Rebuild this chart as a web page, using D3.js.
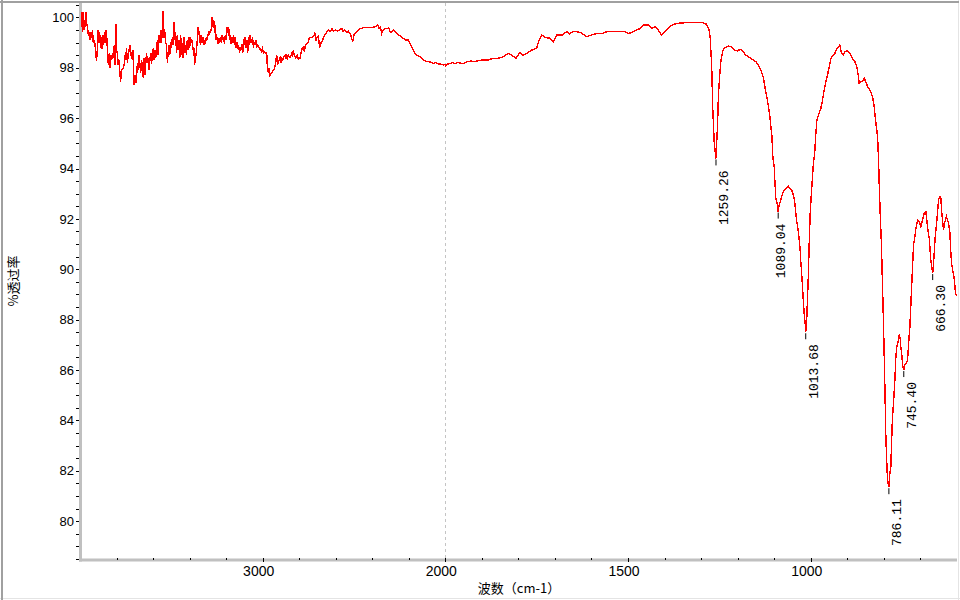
<!DOCTYPE html>
<html><head><meta charset="utf-8">
<script src="https://cdn.jsdelivr.net/npm/d3@7"></script>
<style>html,body{margin:0;padding:0;background:#fff;}svg{display:block}</style>
</head><body>
<svg id="chart" width="960" height="600"></svg>
<script>
const wavenumbers = [
3992,3990,3986,3983,3979,3975,3971,3967,3963,3959,
3955,3950,3946,3941,3937,3932,3928,3923,3919,3914,
3910,3906,3902,3897,3893,3888,3884,3880,3875,3871,
3866,3862,3858,3854,3849,3845,3840,3836,3831,3827,
3822,3818,3813,3809,3804,3800,3795,3791,3786,3782,
3778,3773,3768,3764,3759,3755,3750,3746,3741,3736,
3732,3727,3723,3718,3714,3709,3705,3700,3695,3691,
3686,3682,3677,3672,3668,3663,3659,3654,3650,3645,
3641,3636,3632,3627,3622,3618,3613,3609,3604,3599,
3595,3590,3586,3581,3577,3572,3568,3563,3558,3554,
3549,3545,3540,3536,3531,3527,3522,3518,3513,3509,
3504,3500,3495,3490,3486,3481,3477,3472,3468,3463,
3458,3454,3449,3445,3440,3436,3431,3427,3422,3418,
3413,3409,3404,3400,3395,3391,3386,3382,3377,3373,
3368,3364,3359,3355,3350,3346,3341,3337,3332,3328,
3323,3318,3314,3309,3305,3300,3296,3291,3286,3282,
3277,3273,3268,3264,3259,3255,3250,3246,3241,3236,
3232,3227,3223,3218,3214,3209,3205,3200,3195,3191,
3186,3182,3177,3173,3168,3164,3159,3155,3150,3146,
3141,3136,3132,3127,3123,3118,3113,3109,3105,3100,
3096,3091,3087,3082,3078,3073,3069,3064,3060,3055,
3051,3046,3042,3037,3033,3028,3024,3019,3014,3010,
3005,3001,2996,2992,2987,2982,2978,2974,2969,2965,
2960,2955,2951,2946,2941,2937,2932,2928,2923,2919,
2914,2910,2905,2900,2896,2891,2887,2882,2878,2873,
2869,2864,2860,2855,2850,2846,2841,2837,2832,2828,
2823,2819,2814,2810,2805,2800,2796,2790,2785,2778,
2772,2766,2759,2752,2745,2738,2730,2722,2714,2708,
2702,2695,2688,2680,2672,2660,2650,2641,2630,2620,
2613,2600,2590,2580,2567,2560,2550,2540,2531,2520,
2507,2500,2485,2475,2465,2458,2445,2430,2415,2403,
2390,2380,2370,2362,2355,2348,2340,2330,2320,2310,
2300,2294,2285,2275,2265,2257,2245,2230,2215,2203,
2195,2184,2175,2166,2155,2139,2125,2120,2105,2093,
2080,2066,2055,2045,2038,2025,2011,2004,1999,1993,
1987,1980,1973,1965,1958,1951,1940,1930,1923,1910,
1896,1885,1875,1859,1848,1840,1828,1818,1807,1796,
1787,1777,1764,1750,1745,1736,1725,1713,1704,1695,
1680,1668,1660,1650,1640,1630,1620,1613,1600,1586,
1570,1558,1545,1531,1520,1508,1499,1490,1476,1466,
1458,1444,1435,1426,1418,1408,1399,1390,1380,1367,
1350,1330,1303,1296,1285,1278,1275,1271,1268,1264,
1259.26,1257.9,1255.1,1252.4,1248.7,1246.0,1241.4,1236.9,1225.9,1218.6,
1209.5,1200.4,1193.1,1186.7,1177.6,1163.9,1150.2,1141.1,1134.7,1129.2,
1124.7,1120.1,1115.5,1111.9,1109.1,1106.4,1103.7,1100.0,1098.2,1095.5,
1092.7,1089.04,1086.3,1081.8,1077.2,1072.7,1068.1,1061.7,1056.3,1049.9,
1045.3,1042.6,1038.9,1034.4,1031.6,1028.9,1027.1,1024.3,1022.5,1019.8,
1017.9,1015.2,1013.68,1010.6,1007.0,1004.2,1001.5,997.8,993.3,988.7,
986.0,983.2,978.7,972.3,967.7,963.2,958.6,954.1,949.5,944.9,
940.4,934.0,929.4,923.9,920.3,915.7,911.2,906.6,899.3,892.9,
885.6,879.3,873.8,870.1,867.4,862.8,858.3,853.7,849.1,844.6,
837.3,830.9,826.3,821.6,817.0,814.3,812.4,809.9,806.3,803.5,
800.8,797.2,794.4,792.6,789.9,786.11,784.4,780.8,778.9,776.2,
773.5,769.8,767.1,764.3,760.7,757.9,755.2,753.4,750.6,748.8,
745.40,742.4,738.8,735.1,732.4,728.8,726.0,721.4,718.7,715.0,
712.3,707.7,703.2,698.6,694.1,689.5,684.9,680.4,675.8,671.3,
666.30,664.9,662.1,659.4,654.8,650.3,646.6,643.9,641.2,636.6,
632.9,628.4,622.9,619.3,616.5,613.8,610.1,607.4,603.7,600
];
const transmittance = [
99.6,100.22,99.4,100.2,99.5,99.9,99.6,100.2,99.7,99.6,
99.3,99.36,99.1,99.4,99.2,99.5,99.0,99.05,98.95,98.55,
98.25,98.7,99.5,99.0,99.4,98.8,99.2,98.75,99.3,98.9,
99.4,99.0,99.5,99.2,98.5,98.1,98.6,98.0,98.5,98.3,
98.6,98.4,98.9,98.1,99.75,98.7,98.5,98.1,98.3,97.8,
97.45,97.9,97.95,98.0,98.1,98.5,98.3,98.8,98.2,98.5,
98.7,98.9,98.45,98.6,98.3,98.7,97.3,97.7,97.4,97.6,
98.2,97.9,98.5,98.1,97.8,98.3,98.0,97.6,98.4,97.7,
98.1,98.6,98.2,98.4,97.9,98.3,98.6,98.15,98.5,98.8,
98.3,98.7,98.4,98.6,99.1,98.5,99.3,99.0,99.5,99.0,
99.6,100.25,99.2,99.4,99.0,98.9,98.2,98.6,98.9,98.5,
99.0,98.8,99.2,98.9,99.8,99.1,99.4,98.6,99.3,98.7,
99.1,98.4,99.3,98.5,99.0,98.4,99.2,98.6,98.9,98.5,
99.1,98.7,99.2,98.8,99.2,99.0,99.1,98.7,98.8,98.1,
98.4,98.6,99.0,99.6,99.45,99.2,98.9,99.3,99.0,99.2,
98.9,99.1,98.95,99.2,99.1,99.3,99.4,99.35,99.5,99.5,
100.0,99.6,99.9,99.4,99.7,99.1,99.2,98.95,99.1,99.0,
99.2,99.0,99.3,99.1,99.2,98.95,99.3,99.1,99.6,99.4,
99.6,99.1,99.3,98.95,99.2,99.0,99.3,98.9,99.2,98.8,
99.0,98.75,98.9,98.6,98.8,98.7,98.95,98.6,99.15,98.9,
99.2,98.8,99.1,98.6,99.2,98.9,99.3,99.0,99.1,99.2,
98.8,99.0,98.95,99.1,98.8,98.9,98.85,98.8,98.7,98.75,
98.65,98.75,98.6,98.65,98.6,98.55,98.6,97.95,97.8,98.0,
97.7,97.75,97.8,97.85,97.9,97.95,98.1,98.3,98.5,98.1,
98.2,98.3,98.4,98.2,98.35,98.3,98.4,98.45,98.5,98.35,
98.55,98.4,98.5,98.45,98.4,98.45,98.6,98.45,98.7,98.5,
98.45,98.4,98.45,98.5,98.35,98.4,98.37,98.6,98.75,98.8,
98.65,98.9,98.95,99.0,99.17,99.2,99.2,99.25,99.37,99.1,
99.2,99.25,98.8,99.0,99.1,99.3,99.4,99.5,99.45,99.55,
99.45,99.5,99.45,99.5,99.56,99.45,99.5,99.4,99.45,99.35,
99.03,99.3,99.43,99.5,99.55,99.56,99.6,99.6,99.6,99.6,
99.62,99.65,99.72,99.55,99.6,99.36,99.5,99.56,99.55,99.58,
99.4,99.4,99.5,99.45,99.35,99.3,99.25,99.17,99.1,99.1,
99.0,98.83,98.7,98.55,98.5,98.44,98.35,98.31,98.25,98.24,
98.22,98.17,98.2,98.18,98.15,98.15,98.11,98.13,98.08,98.15,
98.17,98.2,98.17,98.22,98.18,98.17,98.24,98.27,98.24,98.28,
98.31,98.3,98.35,98.37,98.4,98.44,98.57,98.5,98.37,98.6,
98.5,98.57,98.7,98.77,99.03,99.30,99.2,99.17,99.03,99.30,
99.30,99.43,99.35,99.45,99.43,99.4,99.3,99.23,99.3,99.36,
99.36,99.43,99.43,99.43,99.45,99.43,99.36,99.4,99.50,99.56,
99.69,99.69,99.56,99.63,99.5,99.30,99.43,99.56,99.69,99.76,
99.78,99.8,99.8,99.79,99.73,99.5,99.17,98.04,96.32,95.0,
94.4,94.87,95.66,96.98,97.78,98.24,98.63,98.77,98.86,98.83,
98.70,98.67,98.73,98.67,98.50,98.37,98.24,98.04,97.84,97.58,
97.18,96.85,96.45,96.06,95.66,95.33,94.47,94.07,93.54,92.82,
92.68,92.29,92.56,92.75,93.01,93.14,93.21,93.30,93.21,93.08,
92.82,92.50,91.95,91.56,91.16,90.77,90.30,89.71,89.31,88.65,
88.25,87.86,87.5,88.12,89.58,91.0,92.2,93.1,94.07,94.73,
95.40,95.92,96.12,96.39,96.72,97.12,97.44,97.71,98.04,98.37,
98.46,98.57,98.73,98.83,98.90,98.57,98.50,98.63,98.67,98.57,
98.37,98.24,98.04,97.71,97.38,97.44,97.48,97.58,97.44,97.25,
97.09,96.85,96.45,95.79,95.26,94.3,93.3,92.22,90.90,89.3,
87.8,85.4,83.36,82.57,81.64,81.35,81.77,82.17,83.09,84.15,
84.68,85.60,86.5,86.95,87.15,87.37,87.26,86.9,86.6,86.2,
86.0,86.2,86.27,86.4,87.0,87.7,88.6,90.11,90.96,91.29,
91.62,91.95,91.89,91.69,91.95,92.22,92.29,91.69,91.23,90.37,
89.85,90.04,90.63,91.29,91.95,92.75,92.88,92.82,92.22,91.56,
91.89,92.09,91.82,91.49,90.63,90.17,89.84,89.64,89.05,88.94
];
const peakWavenumbers = [1259.26, 1089.04, 1013.68, 786.11, 745.40, 666.30];
const peakLabels = ["1259.26", "1089.04", "1013.68", "786.11", "745.40", "666.30"];
const xLabeledTicks = [3000, 2000, 1500, 1000];
const xMinorTicks = [3800, 3600, 3400, 3200, 2800, 2600, 2400, 2200, 1900, 1800, 1700, 1600, 1400, 1300, 1200, 1100, 900, 800, 700];
const yLabeledTicks = [80, 82, 84, 86, 88, 90, 92, 94, 96, 98, 100];
const xTitle = "波数（cm-1）";
const yTitle = "%透过率";

const svg = d3.select("#chart");
// wavenumber axis with compressed region above 2000 cm-1
const x = d3.scaleLinear().domain([4000, 2000, 600]).range([80.1, 445.3, 956.9]);
const y = d3.scaleLinear().domain([78.46, 100.57]).range([560, 3]);

// outer panel frame
svg.append("line").attr("x1", 0).attr("x2", 960).attr("y1", 598.5).attr("y2", 598.5).attr("stroke", "#e4e4e4");
svg.append("line").attr("x1", 958.5).attr("x2", 958.5).attr("y1", 0).attr("y2", 600).attr("stroke", "#e4e4e4");
svg.append("line").attr("x1", 0).attr("x2", 959).attr("y1", 2).attr("y2", 2).attr("stroke", "#a0a0a0").attr("stroke-width", 2);
svg.append("line").attr("x1", 2).attr("x2", 2).attr("y1", 0).attr("y2", 600).attr("stroke", "#a0a0a0").attr("stroke-width", 2);

// dashed line at 2000 (scale change)
svg.append("line").attr("x1", Math.round(x(2000)) + 0.5).attr("x2", Math.round(x(2000)) + 0.5)
  .attr("y1", 3).attr("y2", 558).attr("stroke", "#c4c4c4").attr("stroke-dasharray", "3,3");

// axis bars
svg.append("line").attr("x1", 79).attr("x2", 957).attr("y1", 560).attr("y2", 560).attr("stroke", "#c0c0c0").attr("stroke-width", 3);
svg.append("line").attr("x1", 80.5).attr("x2", 80.5).attr("y1", 3).attr("y2", 561.5).attr("stroke", "#c0c0c0").attr("stroke-width", 3);

// x minor ticks
svg.append("g").attr("transform", "translate(0,559.5)")
  .call(d3.axisTop(x).tickValues(xMinorTicks).tickSize(2).tickFormat(""));
// x major ticks + labels
const gxMajor = svg.append("g").attr("transform", "translate(0,557.5)")
  .call(d3.axisBottom(x).tickValues(xLabeledTicks).tickSize(4.5).tickFormat(d3.format("d")));
gxMajor.selectAll("text").attr("y", 18.5).attr("dy", null).attr("dx", -4.5)
  .style("font-family", "'Liberation Sans', Arial, sans-serif").style("font-size", "14px").attr("fill", "#000");

// y ticks
const yMinor = d3.range(78.5, 100.51, 0.5);
svg.append("g").attr("transform", "translate(79,0)")
  .call(d3.axisLeft(y).tickValues(yMinor).tickSize(3).tickFormat(""));
const gy = svg.append("g").attr("transform", "translate(79,0)")
  .call(d3.axisLeft(y).tickValues(yLabeledTicks).tickSize(3).tickPadding(2).tickFormat(d3.format("d")));
gy.selectAll("text").style("font-family", "'Liberation Sans', Arial, sans-serif").style("font-size", "13px").attr("fill", "#000");

svg.selectAll(".domain").remove();
svg.selectAll(".tick line").attr("stroke", "#000").attr("shape-rendering", "crispEdges");

// spectrum
const pts = wavenumbers.map((w, i) => [w, transmittance[i]]);
const line = d3.line().x(d => x(d[0])).y(d => y(d[1]));
svg.append("path").datum(pts).attr("d", line).attr("fill", "none")
  .attr("stroke", "#ff0000").attr("stroke-width", 1.4).attr("stroke-linejoin", "miter")
  .attr("shape-rendering", "crispEdges");

// peak markers and labels
const labelNudge = {"1089.04": 3};
peakWavenumbers.forEach((w, i) => {
  const idx = wavenumbers.indexOf(w);
  const px = x(w), py = y(transmittance[idx]);
  svg.append("line").attr("x1", px).attr("x2", px).attr("y1", py + 1).attr("y2", py + 7)
    .attr("stroke", "#000").attr("stroke-width", 1);
  const dx = labelNudge[peakLabels[i]] !== undefined ? labelNudge[peakLabels[i]] : 8.5;
  svg.append("text").attr("transform", `translate(${px + dx},${py + 12}) rotate(-90)`)
    .attr("text-anchor", "end").attr("dominant-baseline", "central")
    .style("font-family", "'Liberation Mono', 'DejaVu Sans Mono', monospace").style("font-size", "13px")
    .attr("fill", "#000").text(peakLabels[i]);
});

// axis titles
svg.append("text").attr("x", 519).attr("y", 593).attr("text-anchor", "middle")
  .style("font-family", "'Noto Sans CJK SC', sans-serif").style("font-size", "13px").attr("fill", "#000").text(xTitle);
svg.append("text").attr("transform", "translate(12.5,281) rotate(-90)").attr("text-anchor", "middle")
  .attr("dominant-baseline", "central")
  .style("font-family", "'Noto Sans CJK SC', sans-serif").style("font-size", "13px").attr("fill", "#000").text(yTitle);
</script>
</body></html>
